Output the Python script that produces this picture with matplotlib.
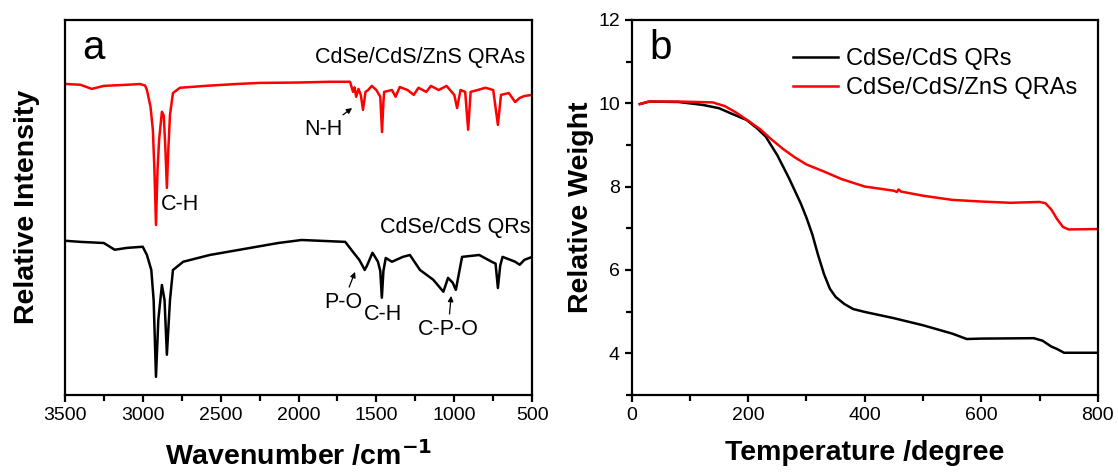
import numpy as np
import matplotlib
matplotlib.use("Agg")
import matplotlib.pyplot as plt
from matplotlib.ticker import MultipleLocator

plt.rcParams['font.family'] = ['Liberation Sans', 'DejaVu Sans']

# ---------------- Panel a: FTIR ----------------
qra_wn = [3500, 3487, 3400, 3327, 3250, 3100, 3018, 2985, 2973, 2950, 2935, 2925, 2915, 2905,
          2895, 2877, 2865, 2855, 2845, 2835, 2825, 2806, 2761, 2600, 2400, 2247, 2000, 1800,
          1669, 1650, 1640, 1630, 1615, 1600, 1586, 1570, 1553, 1530, 1500, 1475, 1464, 1455,
          1450, 1400, 1377, 1350, 1300, 1260, 1230, 1180, 1150, 1100, 1050, 1000, 982, 960,
          930, 911, 895, 850, 800, 750, 720, 700, 650, 609, 580, 550, 500]
qra_int = [82.9, 82.9, 82.7, 81.6, 82.4, 82.7, 82.9, 82.5, 81.3, 76.8, 70.7, 60.0, 45.3, 60.0,
           68.0, 75.5, 74.5, 66.0, 55.2, 66.0, 74.7, 80.5, 81.9, 82.4, 82.9, 83.2, 83.3, 83.5,
           83.5, 80.8, 82.0, 79.5, 81.6, 80.0, 76.0, 80.8, 81.3, 82.4, 81.3, 79.5, 70.1, 78.0,
           80.8, 81.3, 79.5, 82.1, 81.3, 80.0, 81.9, 80.8, 82.4, 81.3, 82.4, 80.0, 76.5, 81.3,
           80.8, 70.7, 80.8, 81.3, 81.9, 81.3, 72.0, 80.0, 80.5, 78.1, 79.2, 79.7, 80.0]

qr_wn = [3500, 3400, 3250, 3180, 3100, 3000, 2973, 2945, 2930, 2915, 2900, 2877, 2860, 2845,
         2825, 2806, 2740, 2570, 2350, 2130, 1980, 1700, 1650, 1610, 1590, 1575, 1560, 1525,
         1490, 1475, 1465, 1455, 1440, 1400, 1330, 1285, 1220, 1135, 1070, 1040, 1010, 990,
         950, 840, 760, 735, 720, 705, 690, 609, 580, 550, 500]
qr_int = [41.1, 40.8, 40.5, 38.7, 39.2, 39.5, 37.3, 33.3, 25.3, 4.8, 20.0, 29.3, 25.3, 10.7,
          25.3, 33.3, 35.5, 37.3, 38.9, 40.5, 41.3, 40.8, 38.1, 36.0, 34.5, 33.3, 34.5, 37.9,
          35.5, 33.0, 25.9, 33.0, 36.5, 35.5, 36.8, 37.3, 33.3, 30.7, 27.5, 31.2, 29.9, 28.0,
          36.8, 37.3, 35.5, 35.0, 28.5, 34.5, 36.8, 35.5, 34.7, 36.0, 36.8]

# ---------------- Panel b: TGA ----------------
tga_qra_T = [14, 30, 80, 139, 160, 180, 200, 220, 240, 260, 280, 300, 330, 360, 400, 450, 455,
             458, 462, 500, 550, 600, 650, 700, 710, 720, 730, 740, 750, 800]
tga_qra_w = [9.98, 10.04, 10.04, 10.02, 9.93, 9.77, 9.58, 9.38, 9.13, 8.90, 8.70, 8.53, 8.36,
             8.18, 8.00, 7.90, 7.87, 7.93, 7.88, 7.78, 7.68, 7.64, 7.61, 7.63, 7.60, 7.45, 7.22,
             7.03, 6.97, 6.98]

tga_qr_T = [14, 30, 80, 122, 150, 168, 197, 215, 230, 250, 270, 290, 300, 310, 320, 330, 340,
            350, 365, 380, 400, 450, 500, 550, 575, 600, 690, 705, 720, 730, 742, 800]
tga_qr_w = [9.98, 10.04, 10.03, 9.96, 9.88, 9.77, 9.60, 9.40, 9.20, 8.75, 8.20, 7.60, 7.25,
            6.85, 6.35, 5.90, 5.55, 5.35, 5.18, 5.06, 4.99, 4.84, 4.67, 4.47, 4.34, 4.35, 4.36,
            4.30, 4.16, 4.10, 4.01, 4.01]

series_labels = ['CdSe/CdS QRs', 'CdSe/CdS/ZnS QRAs']

fig = plt.figure(figsize=(11.18, 4.74), dpi=100)
ax1 = fig.add_axes([0.058, 0.167, 0.418, 0.791])
ax2 = fig.add_axes([0.565, 0.167, 0.417, 0.791])

for ax in (ax1, ax2):
    for s in ax.spines.values():
        s.set_linewidth(1.6)
    ax.tick_params(which='both', direction='out', width=1.6, labelsize=14,
                   top=False, right=False)
    ax.tick_params(which='major', length=5)
    ax.tick_params(which='minor', length=4)

ann_fs = 15.5

# Panel a
ax1.plot(qra_wn, qra_int, color='#ff0000', lw=1.8)
ax1.plot(qr_wn, qr_int, color='black', lw=1.8)
ax1.set_xlim(3500, 500)
ax1.set_ylim(0, 100)
ax1.xaxis.set_major_locator(MultipleLocator(500))
ax1.xaxis.set_minor_locator(MultipleLocator(250))
ax1.set_yticks([])
ax1.set_xlabel('Wavenumber /cm$^{\\mathbf{-1}}$', fontsize=20.5, fontweight='bold', labelpad=12)
ax1.set_ylabel('Relative Intensity', fontsize=20.5, fontweight='bold', labelpad=18)
ax1.text(0.062, 0.925, 'a', transform=ax1.transAxes, fontsize=29, ha='center', va='center')
ax1.text(1219, 89.9, series_labels[1], fontsize=ann_fs, ha='center', va='center')
ax1.text(995, 44.5, series_labels[0], fontsize=ann_fs, ha='center', va='center')
ax1.text(2761, 50.7, 'C-H', fontsize=ann_fs, ha='center', va='center')
ax1.text(1457, 21.3, 'C-H', fontsize=ann_fs, ha='center', va='center')
arrow = dict(arrowstyle='-|>', color='black', lw=0.9, mutation_scale=8, shrinkA=2, shrinkB=0)
ax1.annotate('N-H', xy=(1656, 76.5), xytext=(1843, 70.7), fontsize=ann_fs,
             ha='center', va='center', arrowprops=arrow)
ax1.annotate('P-O', xy=(1637, 32.8), xytext=(1714, 24.5), fontsize=ann_fs,
             ha='center', va='center', arrowprops=arrow)
ax1.annotate('C-P-O', xy=(1020, 26.4), xytext=(1040, 17.3), fontsize=ann_fs,
             ha='center', va='center', arrowprops=arrow)

# Panel b
ax2.plot(tga_qr_T, tga_qr_w, color='black', lw=1.8, label=series_labels[0])
ax2.plot(tga_qra_T, tga_qra_w, color='#ff0000', lw=1.8, label=series_labels[1])
ax2.set_xlim(0, 800)
ax2.set_ylim(3, 12)
ax2.xaxis.set_major_locator(MultipleLocator(200))
ax2.xaxis.set_minor_locator(MultipleLocator(100))
ax2.yaxis.set_major_locator(MultipleLocator(2))
ax2.yaxis.set_minor_locator(MultipleLocator(1))
ax2.set_xlabel('Temperature /degree', fontsize=20.5, fontweight='bold', labelpad=12)
ax2.set_ylabel('Relative Weight', fontsize=20.5, fontweight='bold', labelpad=3)
ax2.text(0.062, 0.925, 'b', transform=ax2.transAxes, fontsize=29, ha='center', va='center')
ax2.legend(loc='upper left', bbox_to_anchor=(0.305, 0.975), frameon=False, fontsize=17,
           handlelength=1.9, handletextpad=0.35, labelspacing=0.3, borderpad=0.3)

fig.savefig('out.png', dpi=100)
